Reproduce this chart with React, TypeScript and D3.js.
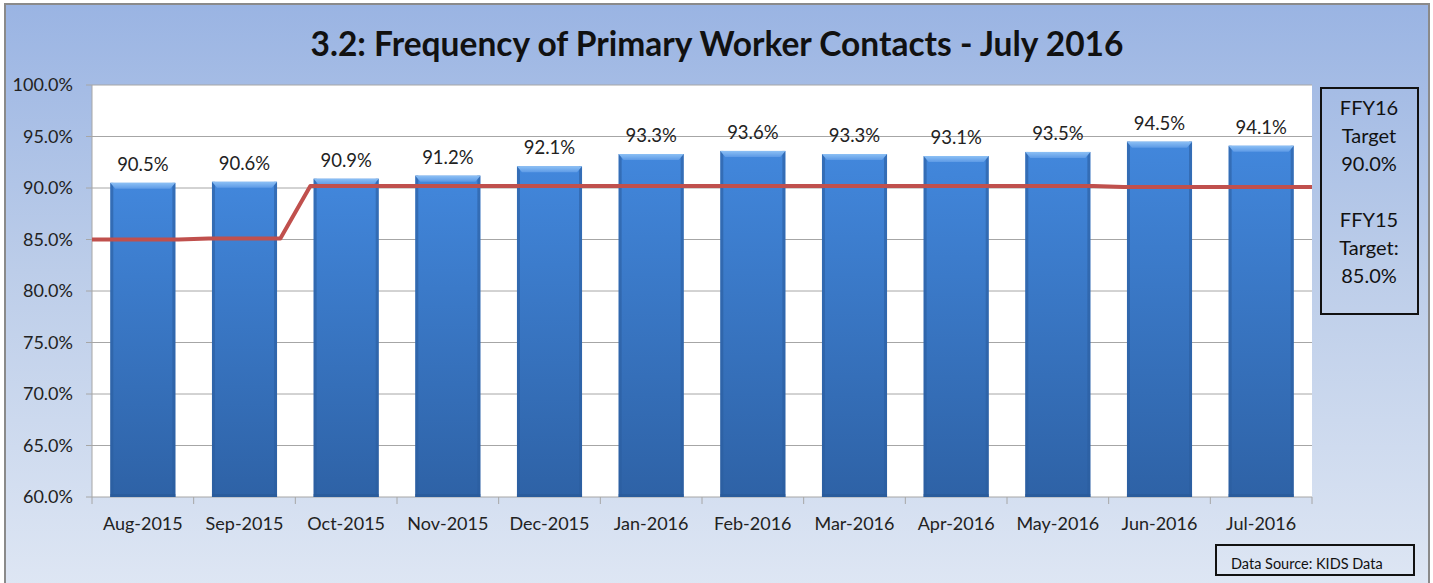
import * as d3 from 'd3'

const W = 1433
const H = 583
const margin = { top: 85, right: 121, bottom: 86, left: 92 }

const months = ['Aug-2015', 'Sep-2015', 'Oct-2015', 'Nov-2015', 'Dec-2015', 'Jan-2016', 'Feb-2016', 'Mar-2016', 'Apr-2016', 'May-2016', 'Jun-2016', 'Jul-2016']
const rates = [90.5, 90.6, 90.9, 91.2, 92.1, 93.3, 93.6, 93.3, 93.1, 93.5, 94.5, 94.1]
const targets = [85.0, 85.1, 90.2, 90.2, 90.2, 90.2, 90.2, 90.2, 90.2, 90.2, 90.1, 90.1]
const yTicks = [60, 65, 70, 75, 80, 85, 90, 95, 100]
const targetNotes = ['FFY16', 'Target', '90.0%', '', 'FFY15', 'Target:', '85.0%']

const font = 'Lato, "Open Sans", sans-serif'

export default function App() {
  const innerW = W - margin.left - margin.right
  const innerH = H - margin.top - margin.bottom

  const x = d3.scaleBand().domain(months).range([0, innerW]).paddingInner(0.36).paddingOuter(0.18)
  const xStep = d3.scaleBand().domain(months).range([0, innerW])
  const y = d3.scaleLinear().domain([60, 100]).range([innerH, 0])

  // target line: flat across each month, short ramp at month boundaries
  const inset = 15
  const pts: [number, number][] = []
  months.forEach((m, i) => {
    const x0 = xStep(m)!
    const x1 = x0 + xStep.bandwidth()
    pts.push([i === 0 ? x0 : x0 + inset, y(targets[i])])
    pts.push([i === months.length - 1 ? x1 : x1 - inset, y(targets[i])])
  })
  const line = d3.line()(pts)

  const bw = x.bandwidth()

  return (
    <svg width={W} height={H} style={{ position: 'absolute', left: 0, top: 0 }}>
      <defs>
        <linearGradient id="bg" x1="0" y1="0" x2="0" y2="1">
          <stop offset="0" stopColor="#9ab4e3" />
          <stop offset="0.45" stopColor="#bccde9" />
          <stop offset="1" stopColor="#dfe7f4" />
        </linearGradient>
        <linearGradient id="bar" x1="0" y1="0" x2="0" y2="1">
          <stop offset="0" stopColor="#4287dc" />
          <stop offset="1" stopColor="#2e62a6" />
        </linearGradient>
        <linearGradient id="barTop" x1="0" y1="0" x2="0" y2="1">
          <stop offset="0" stopColor="#8cc0f5" />
          <stop offset="1" stopColor="#5d9ae6" />
        </linearGradient>
      </defs>
      <rect x={5} y={4} width={1424} height={H + 10} fill="url(#bg)" stroke="#8a8a8a" strokeWidth={2} />
      <text x={717} y={56} textAnchor="middle" fontFamily={font} fontWeight="bold" fontSize={33.5} fill="#111">
        3.2: Frequency of Primary Worker Contacts - July 2016
      </text>
      <g transform={`translate(${margin.left},${margin.top})`}>
        <rect width={innerW} height={innerH} fill="#fff" />
        {yTicks.map((t) => (
          <g key={t} transform={`translate(0,${y(t)})`}>
            <line x1={-6} x2={innerW} stroke="#a6a6a6" strokeWidth={1} />
            <text x={-19} dy="0.35em" textAnchor="end" fontFamily={font} fontSize={18} fill="#222">
              {t.toFixed(1)}%
            </text>
          </g>
        ))}
        <line y1={0} y2={innerH} stroke="#a6a6a6" />
        {months.map((m) => (
          <line key={m} x1={xStep(m)! + xStep.bandwidth()} x2={xStep(m)! + xStep.bandwidth()} y1={innerH} y2={innerH + 7} stroke="#a6a6a6" />
        ))}
        <line x1={0} x2={0} y1={innerH} y2={innerH + 7} stroke="#a6a6a6" />
        {months.map((m, i) => {
          const bx = x(m)!
          const by = y(rates[i])
          const bh = innerH - by
          return (
            <g key={m}>
              <rect x={bx} y={by} width={bw} height={bh} fill="url(#bar)" />
              <rect x={bx} y={by} width={3} height={bh} fill="#2c5d9e" opacity={0.6} />
              <rect x={bx + bw - 3} y={by} width={3} height={bh} fill="#2c5d9e" opacity={0.6} />
              <polygon
                points={`${bx},${by} ${bx + bw},${by} ${bx + bw - 5},${by + 6} ${bx + 5},${by + 6}`}
                fill="url(#barTop)"
              />
              <rect x={bx} y={innerH - 3} width={bw} height={3} fill="#2a5a98" opacity={0.7} />
              <text x={bx + bw / 2} y={by - 12} textAnchor="middle" fontFamily={font} fontSize={18.5} fill="#222">
                {rates[i].toFixed(1)}%
              </text>
              <text x={xStep(m)! + xStep.bandwidth() / 2} y={innerH + 33} textAnchor="middle" fontFamily={font} fontSize={18} fill="#222">
                {m}
              </text>
            </g>
          )
        })}
        <path d={line ?? ''} fill="none" stroke="#c0504d" strokeWidth={4} strokeLinejoin="round" />
      </g>
      <rect x={1321} y={88} width={97} height={226} fill="none" stroke="#111" strokeWidth={2} />
      {targetNotes.map((t, i) => (
        <text key={i} x={1369} y={115 + i * 28} textAnchor="middle" fontFamily={font} fontSize={20} fill="#111">
          {t}
        </text>
      ))}
      <rect x={1216} y={545} width={198} height={30} fill="none" stroke="#111" strokeWidth={2} />
      <text x={1231} y={569} fontFamily={font} fontSize={14.5} fill="#111">
        Data Source: KIDS Data
      </text>
    </svg>
  )
}
